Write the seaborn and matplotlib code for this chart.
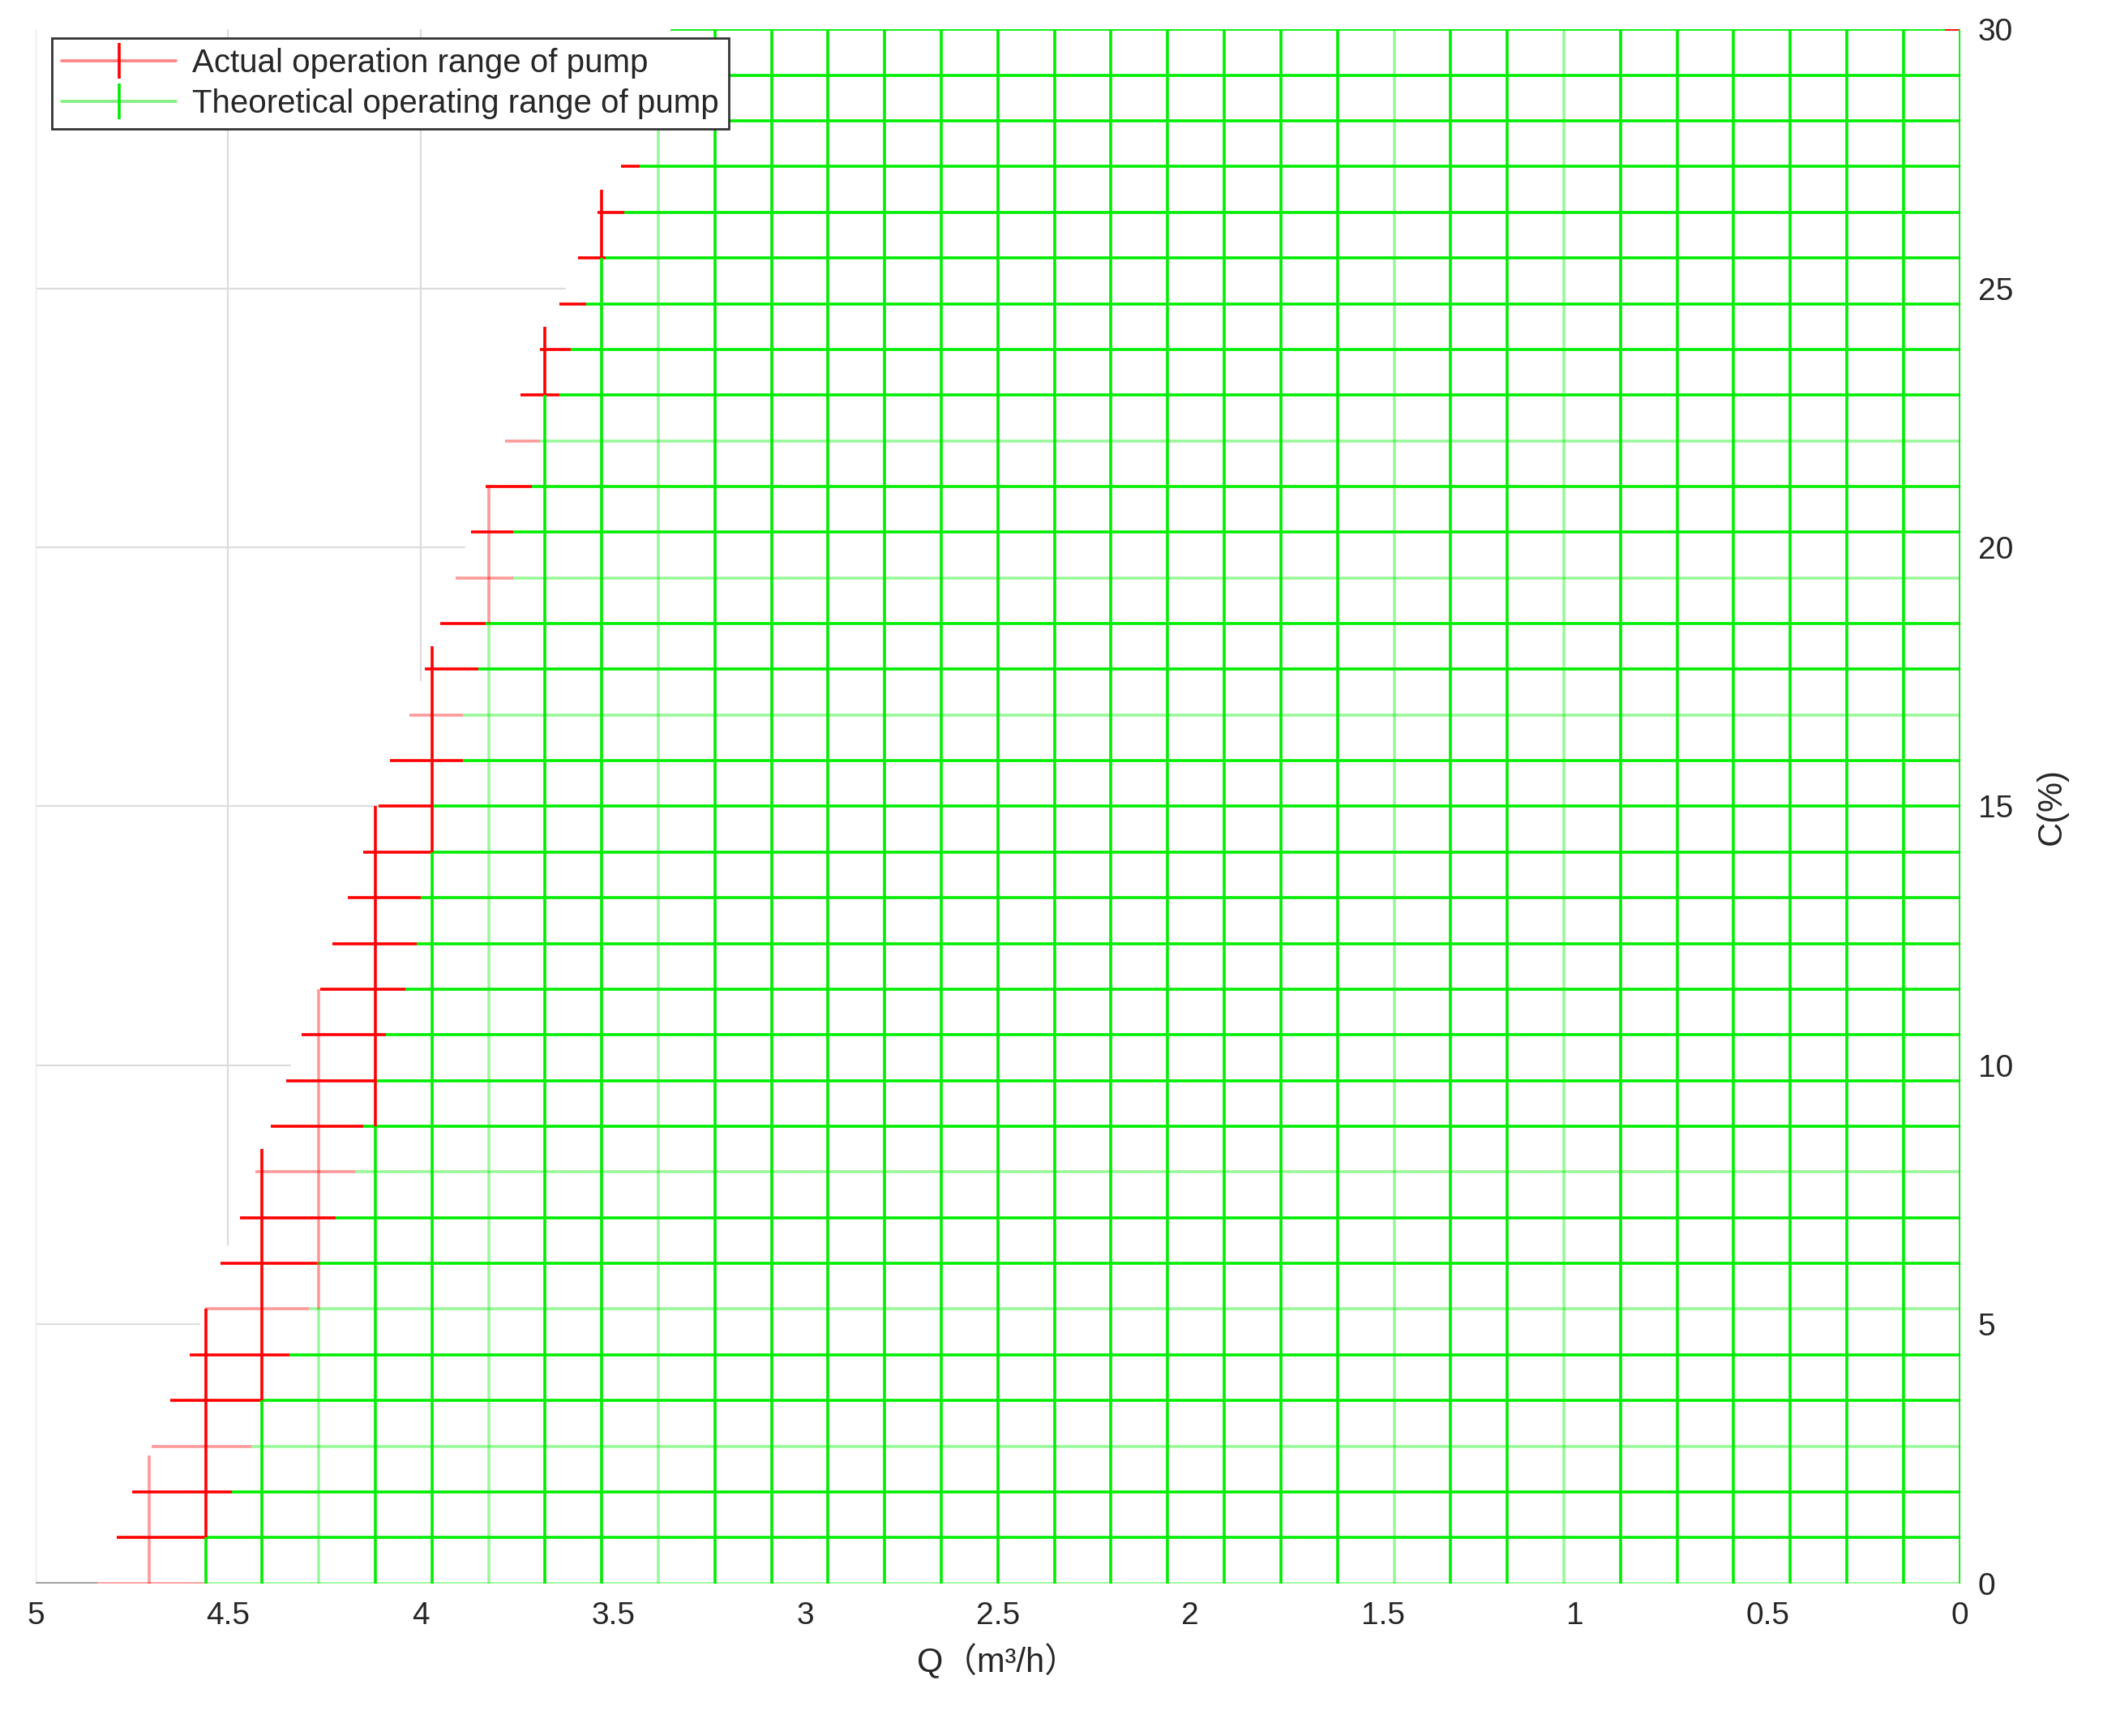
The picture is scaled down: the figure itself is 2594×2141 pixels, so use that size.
import numpy as np
import matplotlib
matplotlib.use("Agg")
import matplotlib.pyplot as plt
from matplotlib.lines import Line2D
import seaborn as sns

# grid of operating points: 35 concentration levels x 35 flow levels
n_levels = 34
c_max = 30.0
q_max = 5.0

# per row (C level index 0..33): left end of red part, left end of green part (Q, m3/h)
row_red_start = [4.84, 4.79, 4.75, 4.70, 4.65, 4.60, 4.56, 4.52, 4.47, 4.43,
                 4.39, 4.35, 4.31, 4.26, 4.23, 4.19, 4.15, 4.11, 4.08, 4.03,
                 3.99, 3.95, 3.91, 3.87, 3.83, 3.78, 3.74, 3.69, 3.64, 3.59,
                 3.54, 3.48, 3.44, 3.39]
row_green_start = [4.56, 4.56, 4.49, 4.44, 4.41, 4.34, 4.29, 4.27, 4.22, 4.17,
                   4.15, 4.12, 4.09, 4.04, 4.01, 4.00, 3.97, 3.97, 3.89, 3.89,
                   3.85, 3.83, 3.76, 3.76, 3.71, 3.69, 3.64, 3.61, 3.57, 3.52,
                   3.47, 3.43, 3.38, 3.35]
# top row (C = 30)
top_red = (0.0, 0.04)
top_green = (0.04, 3.35)

# per column (Q level index): top of green part, top of red part (in C level index)
col_index = [23, 24, 25, 26, 27, 28, 29, 30, 31, 32]
col_green_top = [32, 29, 26, 21, 16, 10, 6, 4, 1, 0]
col_red_top = [33, 30.5, 27.5, 24, 20.5, 17, 13, 9.5, 6, 2.8]

light_rows = [0, 3, 6, 9, 19, 22, 25]
light_cols = [7, 10, 23, 26, 29, 32]

sns.set_theme(style="white")
plt.rcParams['font.family'] = ['Liberation Sans', 'Noto Sans CJK SC', 'DejaVu Sans']

fig = plt.figure(figsize=(12.97, 10.705), dpi=200)
ax = fig.add_axes([0.017, 0.088, 0.915, 0.895])

GREEN = "#00ee00"
RED = "#ff0000"
lw = 1.3
dc = c_max / n_levels
dq = q_max / n_levels

# background grey grid, only visible in the empty region left of the staircase
row_c = np.arange(n_levels) * dc
edge_c = row_c[::-1]
edge_q = np.array(row_red_start)[::-1]
for q in np.arange(4.0, 5.0, 0.5):
    c_low = np.interp(q, edge_q, edge_c)
    ax.vlines(q, c_low, c_max, color="#dddddd", lw=0.8, zorder=0)
for c in np.arange(5, 30, 5):
    q_low = np.interp(c, row_c, row_red_start)
    ax.hlines(c, q_low, q_max, color="#dddddd", lw=0.8, zorder=0)
ax.vlines(q_max, 0, c_max, color="#e6e6e6", lw=0.8, zorder=0)

# horizontal lines
for j in range(n_levels):
    y = j * dc
    a = 0.4 if j in light_rows else 1.0
    ax.hlines(y, 0, row_green_start[j], color=GREEN, lw=lw, alpha=a, zorder=2)
    ax.hlines(y, row_green_start[j], row_red_start[j], color=RED, lw=lw, alpha=a, zorder=2)
ax.hlines(c_max, *top_green, color=GREEN, lw=lw, zorder=2)
ax.hlines(c_max, *top_red, color=RED, lw=lw, zorder=2)
ax.hlines(0, row_red_start[0], q_max, color="#999999", lw=lw, zorder=2)

# vertical lines
for i in range(n_levels + 1):
    x = i * dq
    a = 0.4 if i in light_cols else 1.0
    if i in col_index:
        k = col_index.index(i)
        g_top = col_green_top[k] * dc
        r_top = col_red_top[k] * dc
        if g_top > 0:
            ax.vlines(x, 0, g_top, color=GREEN, lw=lw, alpha=a, zorder=2)
        ax.vlines(x, g_top, r_top, color=RED, lw=lw, alpha=a, zorder=2)
    elif i < min(col_index):
        ax.vlines(x, 0, c_max, color=GREEN, lw=lw, alpha=a, zorder=2)

ax.set_xlim(q_max, 0)
ax.set_ylim(0, c_max)
ax.set_xticks(np.arange(0, 5.01, 0.5))
ax.set_xticklabels(["0", "0.5", "1", "1.5", "2", "2.5", "3", "3.5", "4", "4.5", "5"])
ax.set_yticks(np.arange(0, 31, 5))
ax.yaxis.tick_right()
ax.yaxis.set_label_position("right")
ax.tick_params(labelsize=14, length=0, pad=8)
for s in ax.spines.values():
    s.set_visible(False)
ax.set_xlabel("Q（m³/h）", fontsize=15, labelpad=6)
ax.set_ylabel("C(%)", fontsize=15, rotation=90, labelpad=10)

handles = [
    Line2D([0], [0], color="#ff8080", lw=1.3, marker="|", markersize=16,
           markeredgecolor=RED, markeredgewidth=1.3),
    Line2D([0], [0], color="#80ee80", lw=1.3, marker="|", markersize=16,
           markeredgecolor=GREEN, markeredgewidth=1.3),
]
leg = ax.legend(handles, ["Actual operation range of pump", "Theoretical operating range of pump"],
                loc="upper left", bbox_to_anchor=(0.0, 1.005), fontsize=14.5, frameon=True,
                fancybox=False, edgecolor="#333333", framealpha=1, borderpad=0.3,
                handlelength=3.5, handletextpad=0.5, labelspacing=0.3)
leg.get_frame().set_linewidth(1.0)
leg.set_zorder(5)

fig.savefig("out.png", dpi=200)
